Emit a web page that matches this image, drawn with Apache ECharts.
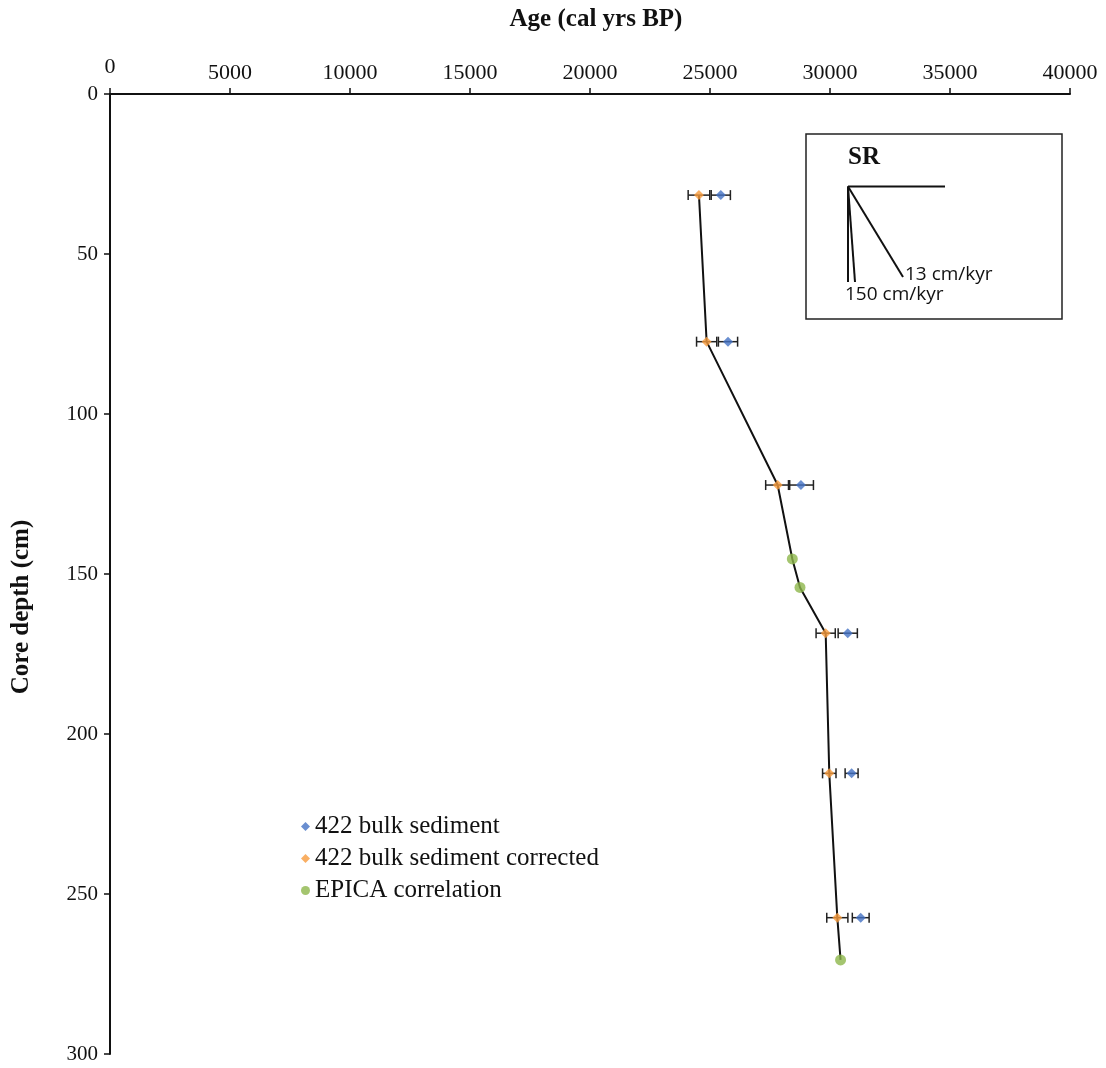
<!DOCTYPE html>
<html><head><meta charset="utf-8">
<script src="https://cdn.jsdelivr.net/npm/echarts@6/dist/echarts.min.js"></script>
<style>html,body{margin:0;padding:0;background:#fff}#c{width:1106px;height:1068px}</style>
</head><body><div id="c"></div>
<script>
// Radiocarbon dated depths (cm)
const datedDepths = [31.6, 77.4, 122.2, 168.5, 212.3, 257.4];
const bulkAges = [25450, 25750, 28790, 30740, 30900, 31280];
const bulkErr = [400, 400, 520, 400, 270, 350];
const correctedAges = [24540, 24860, 27820, 29820, 29970, 30305];
const correctedErr = [450, 420, 500, 400, 280, 440];
// EPICA correlation tie points
const epicaDepths = [145.3, 154.2, 270.6];
const epicaAges = [28430, 28750, 30440];
const xTicks = [0, 5000, 10000, 15000, 20000, 25000, 30000, 35000, 40000];
const yTicks = [0, 50, 100, 150, 200, 250, 300];

const serif = '"Liberation Serif","Times New Roman",serif';
const sans = '"Open Sans","Noto Sans",sans-serif';

const bulkData = bulkAges.map((a, i) => [a, datedDepths[i], bulkErr[i]]);
const corrData = correctedAges.map((a, i) => [a, datedDepths[i], correctedErr[i]]);
const epicaData = epicaAges.map((a, i) => [a, epicaDepths[i]]);
const agePath = corrData.map(d => [d[0], d[1]]).concat(epicaData).sort((p, q) => p[1] - q[1]);

function errBar(params, api) {
  const x = api.value(0), y = api.value(1), e = api.value(2);
  const l = api.coord([x - e, y]), r = api.coord([x + e, y]);
  const h = 5;
  const st = {stroke: '#222', lineWidth: 1.5};
  return {type: 'group', children: [
    {type: 'line', shape: {x1: l[0], y1: l[1], x2: r[0], y2: r[1]}, style: st},
    {type: 'line', shape: {x1: l[0], y1: l[1] - h, x2: l[0], y2: l[1] + h}, style: st},
    {type: 'line', shape: {x1: r[0], y1: r[1] - h, x2: r[0], y2: r[1] + h}, style: st}
  ]};
}

const chart = echarts.init(document.getElementById('c'));
chart.setOption({
  animation: false,
  backgroundColor: '#fff',
  grid: {left: 110, top: 94, width: 960, height: 960, containLabel: false, outerBoundsMode: 'none'},
  xAxis: {
    type: 'value', position: 'top', min: 0, max: 40000, interval: 5000,
    axisLine: {show: true, lineStyle: {color: '#111', width: 2}},
    axisTick: {show: true, length: 6, lineStyle: {color: '#111', width: 1.5}},
    axisLabel: {
      fontFamily: serif, fontSize: 22, color: '#111', margin: 10,
      formatter: v => xTicks.indexOf(v) === 0 ? '{z|' + v + '}' : String(v),
      rich: {z: {fontFamily: serif, fontSize: 22, color: '#111', padding: [0, 0, 6, 0]}}
    },
    splitLine: {show: false}
  },
  yAxis: {
    type: 'value', inverse: true, min: 0, max: 300, interval: 50,
    axisLine: {show: true, lineStyle: {color: '#111', width: 2}},
    axisTick: {show: true, length: 6, lineStyle: {color: '#111', width: 1.5}},
    axisLabel: {fontFamily: serif, fontSize: 21, color: '#111', margin: 12,
      formatter: v => String(yTicks[yTicks.indexOf(v)])},
    splitLine: {show: false}
  },
  legend: {
    orient: 'vertical', left: 296, top: 808,
    itemWidth: 9, itemHeight: 9, itemGap: 5,
    textStyle: {fontFamily: serif, fontSize: 25, color: '#111', lineHeight: 27},
    data: [
      {name: '422 bulk sediment', icon: 'diamond', itemStyle: {color: '#4472c4'}},
      {name: '422 bulk sediment corrected', icon: 'diamond', itemStyle: {color: '#f79b3c'}},
      {name: 'EPICA correlation', icon: 'circle', itemStyle: {color: '#8db64b'}}
    ]
  },
  graphic: [
    {type: 'text', x: 596, y: 20, style: {
      text: 'Age (cal yrs BP)', fontFamily: serif, fontWeight: 'bold', fontSize: 25,
      fill: '#111', align: 'center', verticalAlign: 'middle'}},
    {type: 'text', x: 22, y: 607, rotation: Math.PI / 2, style: {
      text: 'Core depth (cm)', fontFamily: serif, fontWeight: 'bold', fontSize: 25,
      fill: '#111', align: 'center', verticalAlign: 'middle'}},
    {type: 'rect', shape: {x: 806, y: 134, width: 256, height: 185},
      style: {fill: 'none', stroke: '#222', lineWidth: 1.5}},
    {type: 'text', x: 848, y: 158, style: {text: 'SR', fontFamily: serif, fontWeight: 'bold',
      fontSize: 25, fill: '#111', verticalAlign: 'middle'}},
    {type: 'line', shape: {x1: 848, y1: 186.5, x2: 945, y2: 186.5}, style: {stroke: '#111', lineWidth: 2}},
    {type: 'line', shape: {x1: 848, y1: 186.5, x2: 848, y2: 282}, style: {stroke: '#111', lineWidth: 2}},
    {type: 'line', shape: {x1: 848, y1: 186.5, x2: 855, y2: 282}, style: {stroke: '#111', lineWidth: 2}},
    {type: 'line', shape: {x1: 848, y1: 186.5, x2: 903, y2: 277}, style: {stroke: '#111', lineWidth: 2}},
    {type: 'text', x: 905, y: 275, style: {text: '13 cm/kyr', fontFamily: sans, fontSize: 19,
      fill: '#111', verticalAlign: 'middle'}},
    {type: 'text', x: 845, y: 295, style: {text: '150 cm/kyr', fontFamily: sans, fontSize: 19,
      fill: '#111', verticalAlign: 'middle'}}
  ],
  series: [
    {type: 'line', name: 'age model', data: agePath, showSymbol: false, symbol: 'none',
      lineStyle: {color: '#111', width: 2}, z: 1, silent: true},
    {type: 'custom', name: 'bulk err', data: bulkData, renderItem: errBar, z: 2, silent: true},
    {type: 'custom', name: 'corr err', data: corrData, renderItem: errBar, z: 2, silent: true},
    {type: 'scatter', name: '422 bulk sediment', data: bulkData.map(d => [d[0], d[1]]),
      symbol: 'diamond', symbolSize: 10, itemStyle: {color: '#4472c4'}, z: 3},
    {type: 'scatter', name: '422 bulk sediment corrected', data: corrData.map(d => [d[0], d[1]]),
      symbol: 'diamond', symbolSize: 10, itemStyle: {color: '#f79b3c'}, z: 3},
    {type: 'scatter', name: 'EPICA correlation', data: epicaData,
      symbol: 'circle', symbolSize: 11, itemStyle: {color: '#8db64b'}, z: 3}
  ]
});
</script></body></html>
